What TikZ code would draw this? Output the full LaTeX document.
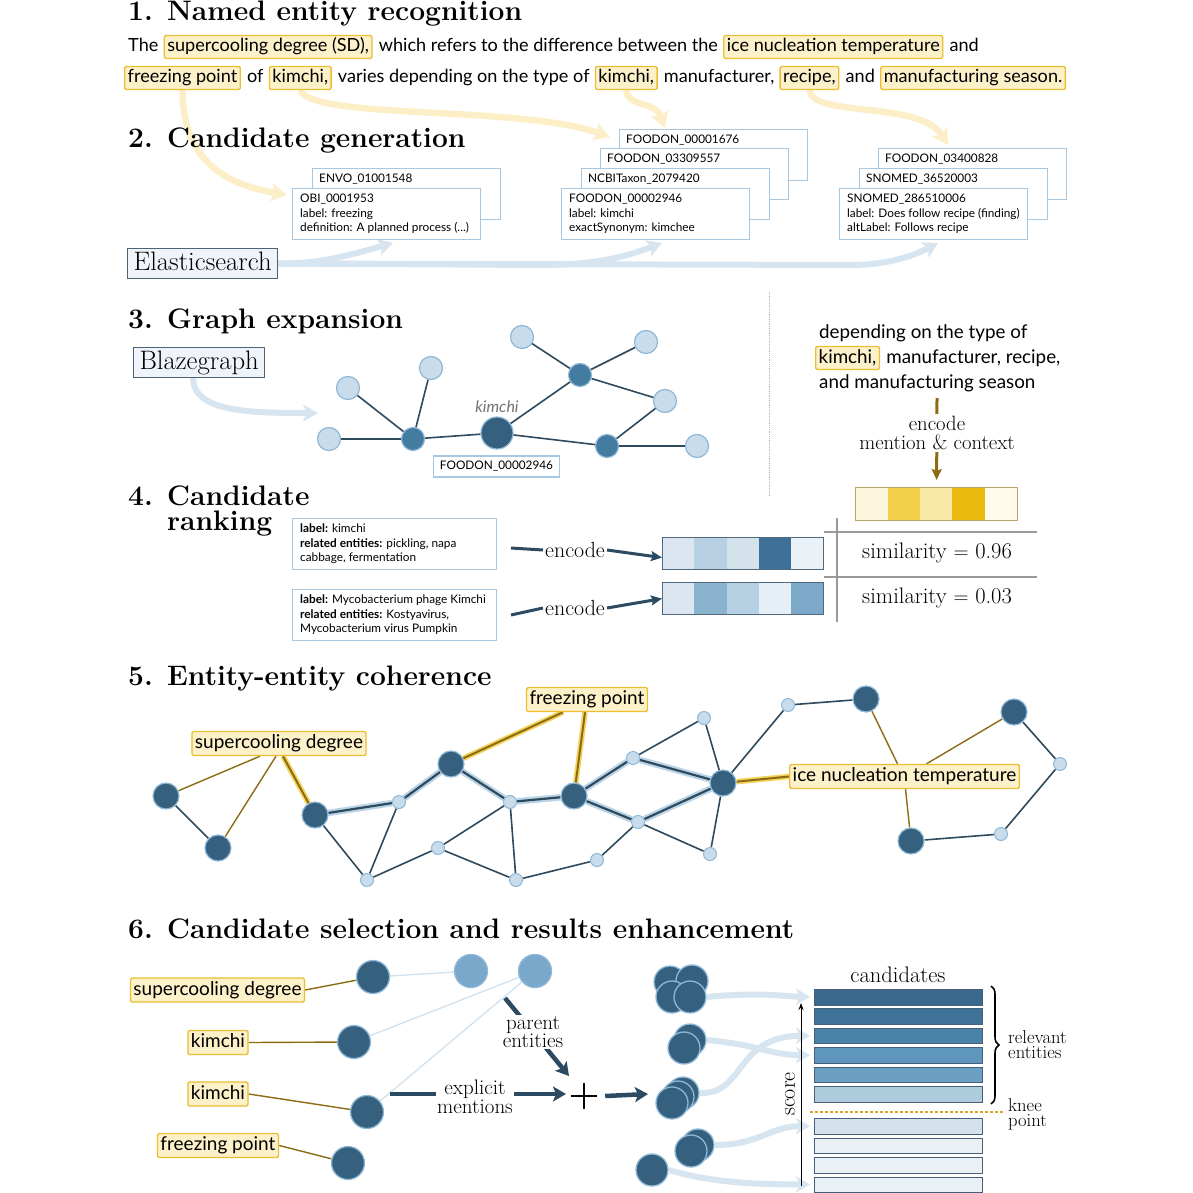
\documentclass[tikz,border=0pt]{standalone}
\usepackage{fontspec}
\newfontfamily\lato{Lato}
\usetikzlibrary{arrows.meta,decorations.pathreplacing,backgrounds,calc}
\definecolor{hlfill}{HTML}{FDF1C9}
\definecolor{hlgold}{HTML}{EBBE33}
\definecolor{paleyel}{HTML}{FCEFC8}
\definecolor{boxblue}{HTML}{A7C8E0}
\definecolor{esblue}{HTML}{D7E5F0}
\definecolor{esfill}{HTML}{EEF4F9}
\definecolor{esdraw}{HTML}{4D6475}
\definecolor{edgec}{HTML}{2F4A5D}
\definecolor{lnfill}{HTML}{C9DCEB}
\definecolor{lndraw}{HTML}{8FB7D6}
\definecolor{mnfill}{HTML}{447BA1}
\definecolor{dnfill}{HTML}{35617F}
\definecolor{goldline}{HTML}{8C6B12}
\definecolor{goldglow}{HTML}{F3D45E}
\definecolor{glowblue}{HTML}{B9D3E7}
\definecolor{arrdark}{HTML}{2C4B62}
\definecolor{vecyb}{HTML}{B9A66A}
\definecolor{vecbb}{HTML}{50697C}
\definecolor{psix}{HTML}{7AA8CB}
\definecolor{lline}{HTML}{D3E3EF}
\definecolor{bardraw}{HTML}{46607A}
\definecolor{tgray}{HTML}{9A9A9A}
\definecolor{kneec}{HTML}{D9A520}
\begin{document}
\begin{tikzpicture}[x=1pt,y=-1pt,
  sect/.style={anchor=base west, inner sep=0, font=\fontsize{28.2}{30}\selectfont\bfseries},
  txt/.style={anchor=base west, inner sep=0, font=\lato\fontsize{18.1}{21}\selectfont},
  rtxt/.style={anchor=base west, inner sep=0, font=\lato\fontsize{18.8}{21}\selectfont},
  hl/.style={anchor=base west, draw=hlgold, fill=hlfill, line width=1.4pt, rounded corners=1.5pt, inner xsep=3pt, inner ysep=3pt, text height=13.5pt, text depth=3.5pt, font=\lato\fontsize{18.1}{21}\selectfont},
  hlr/.style={hl, font=\lato\fontsize{18.8}{21}\selectfont},
  hlc/.style={hl, anchor=center, font=\lato\fontsize{19}{21}\selectfont, text height=14pt, text depth=4pt},
  cbox/.style={draw=boxblue, fill=white, line width=1.2pt, minimum width=188pt, minimum height=51pt, anchor=north west, inner sep=0},
  ctext/.style={anchor=north west, inner sep=0, align=left, font=\lato\fontsize{11.8}{14.5}\selectfont},
  kbox/.style={draw=boxblue, fill=white, line width=1.2pt, minimum width=204pt, minimum height=51pt, anchor=north west, inner sep=0},
  esarr/.style={draw=esblue, line width=6pt, -{Stealth[length=15pt,width=17pt,inset=4pt]}},
  yarr/.style={draw=paleyel, line width=6.5pt, -{Stealth[length=16pt,width=18pt,inset=4pt]}},
  tool/.style={draw=esdraw, fill=esfill, line width=1pt, inner xsep=6pt, inner ysep=3pt, text height=18.5pt, text depth=5.5pt, anchor=north west, font=\fontsize{26.7}{28}\selectfont},
  lnode/.style={circle, fill=lnfill, draw=lndraw, line width=1.2pt, minimum size=23pt, inner sep=0},
  mnode/.style={circle, fill=mnfill, draw=lndraw, line width=1.2pt, minimum size=23pt, inner sep=0},
  knode/.style={circle, fill=dnfill, draw=lndraw, line width=1.2pt, minimum size=32pt, inner sep=0},
  gedge/.style={draw=edgec, line width=1.6pt},
  dbig/.style={circle, fill=dnfill, draw=lndraw, line width=1.2pt, minimum size=26pt, inner sep=0},
  dsmall/.style={circle, fill=lnfill, draw=lndraw, line width=1pt, minimum size=13pt, inner sep=0},
  hedge/.style={draw=edgec, line width=2.2pt, preaction={draw=glowblue, line width=6.5pt}},
  goldedge/.style={draw=goldline, line width=1.4pt},
  hgold/.style={draw=goldline, line width=2pt, preaction={draw=goldglow, line width=5.5pt}},
  cell/.style={minimum width=32.4pt, minimum height=33pt, inner sep=0, anchor=north west},
  bcell/.style={minimum width=32.2pt, minimum height=32pt, inner sep=0, anchor=north west},
  serif/.style={font=\fontsize{22.5}{24}\selectfont, inner sep=1pt},
  smallserif/.style={font=\fontsize{21}{16}\selectfont, inner sep=1pt, align=center},
  tinyserif/.style={font=\fontsize{18.6}{15}\selectfont, inner sep=1pt, align=left, anchor=west},
  bigarr/.style={draw=arrdark, line width=4.5pt, -{Stealth[length=13pt,width=15pt,inset=3pt]}},
  encline/.style={draw=arrdark, line width=3pt},
  encarr/.style={draw=arrdark, line width=3pt, -{Stealth[length=11pt,width=10pt,inset=2pt]}},
  bar/.style={draw=bardraw, line width=0.9pt, minimum width=168pt, minimum height=15.5pt, anchor=north west, inner sep=0},
  dsix/.style={circle, fill=dnfill, draw=lndraw, line width=1.3pt, minimum size=33pt, inner sep=0},
  csix/.style={circle, fill=dnfill, draw=lndraw, line width=1.3pt, minimum size=32pt, inner sep=0},
  psixn/.style={circle, fill=psix, draw=lndraw, line width=1.3pt, minimum size=33pt, inner sep=0},
  clarr/.style={draw=esblue, line width=6pt, -{Stealth[length=14pt,width=16pt,inset=4pt]}}
]
\useasboundingbox (0,0) rectangle (1193,1193);
\begin{scope}[on background layer]
\fill[white] (0,0) rectangle (1193,1193);
\end{scope}

%% ---------------- Section 1
\node[sect] (t1) at (128,21) {\makebox[39pt][l]{1.}Named entity recognition};
\node[txt] (a1) at (128,52) {The};
\node[hl] (h1) at ([xshift=5pt]a1.base east) {supercooling degree (SD),};
\node[txt] (a2) at ([xshift=6pt]h1.base east) {which refers to the difference between the};
\node[hl] (h2) at ([xshift=5pt]a2.base east) {ice nucleation temperature};
\node[txt] (a3) at ([xshift=6pt]h2.base east) {and};
\node[hl] (h3) at (124,83) {freezing point};
\node[txt] (a4) at ([xshift=6pt]h3.base east) {of};
\node[hl] (h4) at ([xshift=5pt]a4.base east) {kimchi,};
\node[txt] (a5) at ([xshift=6pt]h4.base east) {varies depending on the type of};
\node[hl] (h5) at ([xshift=5pt]a5.base east) {kimchi,};
\node[txt] (a6) at ([xshift=6pt]h5.base east) {manufacturer,};
\node[hl] (h6) at ([xshift=5pt]a6.base east) {recipe,};
\node[txt] (a7) at ([xshift=6pt]h6.base east) {and};
\node[hl] (h7) at ([xshift=5pt]a7.base east) {manufacturing season.};

%% ---------------- Section 2
\node[sect] (t2) at (128,148) {\makebox[39pt][l]{2.}Candidate generation};
\node[cbox] (envo) at (312,168) {};
\node[ctext] (envot) at ([xshift=7pt,yshift=-6pt]envo.north west) {ENVO\_01001548};
\node[cbox] (obi) at (292,188) {};
\node[ctext] (obit) at ([xshift=8pt,yshift=-6pt]obi.north west) {OBI\_0001953\\label: freezing\\definition: A planned process (...)};

\node[cbox] (fa) at (619,129) {};
\node[ctext] (fat) at ([xshift=7pt,yshift=-6pt]fa.north west) {FOODON\_00001676};
\node[cbox] (fb) at (600,148) {};
\node[ctext] (fbt) at ([xshift=7pt,yshift=-6pt]fb.north west) {FOODON\_03309557};
\node[cbox] (nc) at (581,168) {};
\node[ctext] (nct) at ([xshift=7pt,yshift=-6pt]nc.north west) {NCBITaxon\_2079420};
\node[cbox] (fc) at (561,188) {};
\node[ctext] (fct) at ([xshift=8pt,yshift=-6pt]fc.north west) {FOODON\_00002946\\label: kimchi\\exactSynonym: kimchee};

\node[cbox] (fd) at (878,148) {};
\node[ctext] (fdt) at ([xshift=7pt,yshift=-6pt]fd.north west) {FOODON\_03400828};
\node[cbox] (sa) at (859,168) {};
\node[ctext] (sat) at ([xshift=7pt,yshift=-6pt]sa.north west) {SNOMED\_36520003};
\node[cbox] (sb) at (839,188) {};
\node[ctext] (sbt) at ([xshift=8pt,yshift=-6pt]sb.north west) {SNOMED\_286510006\\label: Does follow recipe (finding)\\altLabel: Follows recipe};

\node[tool] (es) at (127,248) {Elasticsearch};

\begin{scope}[on background layer]
\draw[yarr] (h3.south) .. controls (183,165) and (230,185) .. (287,195);
\draw[yarr] (h4.south) .. controls (312,120) and (520,105) .. (610,137);
\draw[yarr] (h5.south) .. controls (628,108) and (655,100) .. (665,128);
\draw[yarr] (h6.south) .. controls (812,118) and (920,100) .. (948,145);
\draw[esarr] (es.east) .. controls (320,264) and (350,255) .. (393,243);
\draw[esarr] (es.east) -- (540,265) .. controls (600,265) and (630,255) .. (662,243);
\draw[esarr] (es.east) -- (850,265) .. controls (890,265) and (915,255) .. (938,243);
\end{scope}

%% ---------------- Section 3
\node[sect] (t3) at (128,328) {\makebox[39pt][l]{3.}Graph expansion};
\node[tool] (bg) at (133,347) {Blazegraph};
\coordinate (bgend) at (318,413);
\begin{scope}[on background layer]
\draw[esarr] ([xshift=-6pt]bg.south) .. controls (193,412) and (250,413) .. (bgend);
\end{scope}

\node[lnode] (L1) at (348,388) {};
\node[lnode] (L2) at (431,368) {};
\node[lnode] (L3) at (329,439) {};
\node[mnode] (M1) at (413,439) {};
\node[knode] (K) at (497,433) {};
\node[lnode] (T1) at (522,337) {};
\node[lnode] (T2) at (646,342) {};
\node[mnode] (M2) at (580,375) {};
\node[lnode] (R1) at (665,401) {};
\node[mnode] (M3) at (607,446) {};
\node[lnode] (R2) at (697,446) {};
\draw[gedge] (L1) -- (M1); \draw[gedge] (L2) -- (M1); \draw[gedge] (L3) -- (M1);
\draw[gedge] (M1) -- (K); \draw[gedge] (K) -- (M2); \draw[gedge] (K) -- (M3);
\draw[gedge] (M2) -- (T1); \draw[gedge] (M2) -- (T2); \draw[gedge] (M2) -- (R1);
\draw[gedge] (R1) -- (M3); \draw[gedge] (M3) -- (R2);
\node[font=\lato\itshape\fontsize{16}{18}\selectfont, text=black!55, inner sep=0] (kl) at (497,407) {kimchi};
\node[draw=boxblue, line width=1.2pt, fill=white, font=\lato\fontsize{11.8}{13}\selectfont, minimum width=126pt, minimum height=21pt, inner sep=0] (kid) at (496.5,466.5) {FOODON\_00002946};

\draw[tgray!70, line width=0.8pt, densely dotted] (769,292) -- (769,497);
\node[rtxt] (r1) at (819,338) {depending on the type of};
\node[hlr] (rk) at (815,363) {kimchi,};
\node[rtxt] (r2) at ([xshift=6pt]rk.base east) {manufacturer, recipe,};
\node[rtxt] (r3) at (819,388) {and manufacturing season};

\node[cell, fill={rgb,255:red,254;green,246;blue,220}] (y1) at (855,487) {};
\node[cell, fill={rgb,255:red,245;green,208;blue,74}] (y2) at (887.4,487) {};
\node[cell, fill={rgb,255:red,250;green,232;blue,168}] (y3) at (919.8,487) {};
\node[cell, fill={rgb,255:red,232;green,185;blue,14}] (y4) at (952.2,487) {};
\node[cell, fill={rgb,255:red,255;green,250;blue,233}] (y5) at (984.6,487) {};
\node[draw=vecyb, line width=1.2pt, minimum width=162pt, minimum height=33pt, inner sep=0, anchor=north west] (yvec) at (855,487) {};
\coordinate (encS) at (937,398);
\draw[draw=goldline, line width=3pt, -{Stealth[length=11pt,width=10pt,inset=2pt]}, shorten >=7pt] (encS) -- (yvec.north);
\node[fill=white, font=\fontsize{20.7}{19}\selectfont, align=center, inner sep=2pt] (encm) at (937,433) {encode\\mention \& context};

%% ---------------- Section 4
\node[sect] (t4) at (128,505) {\makebox[39pt][l]{4.}Candidate};
\node[sect] (t4b) at (167,530) {ranking};
\node[kbox] (kb1) at (292,518) {};
\node[ctext, font=\lato\fontsize{11.8}{14.5}\selectfont] (kb1t) at ([xshift=8pt,yshift=-6pt]kb1.north west) {\textbf{label:} kimchi\\\textbf{related entities:} pickling, napa\\cabbage, fermentation};
\node[kbox] (kb2) at (292,589) {};
\node[ctext, font=\lato\fontsize{11.8}{14.5}\selectfont] (kb2t) at ([xshift=8pt,yshift=-6pt]kb2.north west) {\textbf{label:} Mycobacterium phage Kimchi\\\textbf{related entities:} Kostyavirus,\\Mycobacterium virus Pumpkin};

\node[bcell, fill={rgb,255:red,220;green,230;blue,240}] (u1) at (662,537) {};
\node[bcell, fill={rgb,255:red,183;green,208;blue,227}] (u2) at (694.2,537) {};
\node[bcell, fill={rgb,255:red,212;green,226;blue,236}] (u3) at (726.4,537) {};
\node[bcell, fill={rgb,255:red,63;green,112;blue,151}] (u4) at (758.6,537) {};
\node[bcell, fill={rgb,255:red,234;green,241;blue,247}] (u5) at (790.8,537) {};
\node[draw=vecbb, line width=1.2pt, minimum width=161pt, minimum height=32pt, inner sep=0, anchor=north west] (uvec) at (662,537) {};
\node[bcell, fill={rgb,255:red,220;green,230;blue,240}] (w1) at (662,582) {};
\node[bcell, fill={rgb,255:red,138;green,179;blue,208}] (w2) at (694.2,582) {};
\node[bcell, fill={rgb,255:red,182;green,209;blue,228}] (w3) at (726.4,582) {};
\node[bcell, fill={rgb,255:red,231;green,239;blue,246}] (w4) at (758.6,582) {};
\node[bcell, fill={rgb,255:red,124;green,169;blue,201}] (w5) at (790.8,582) {};
\node[draw=vecbb, line width=1.2pt, minimum width=161pt, minimum height=32pt, inner sep=0, anchor=north west] (wvec) at (662,582) {};

\node[font=\fontsize{21.9}{22}\selectfont, inner sep=2pt] (enc1) at (575,550) {encode};
\node[font=\fontsize{21.9}{22}\selectfont, inner sep=2pt] (enc2) at (575,608) {encode};
\coordinate (e1s) at (511,548);
\coordinate (e2s) at (511,615);
\draw[encline] (e1s) -- (enc1.west);
\draw[encline] (e2s) -- (enc2.west);
\draw[encarr] (enc1.east) -- ([yshift=-4pt]uvec.west);
\draw[encarr] (enc2.east) -- ([yshift=0pt]wvec.west);

\draw[tgray, line width=1.2pt] (837,518) -- (837,622);
\draw[tgray, line width=1.2pt] (824,532) -- (1037,532);
\draw[tgray, line width=1.2pt] (824,577) -- (1037,577);
\node[serif, anchor=base west] (sim1) at (861,558) {similarity $=$ 0.96};
\node[serif, anchor=base west] (sim2) at (861,603) {similarity $=$ 0.03};

%% ---------------- Section 5
\node[sect] (t5) at (128,685) {\makebox[39pt][l]{5.}Entity-entity coherence};
\node[dbig] (A) at (166,796) {};
\node[dbig] (B) at (218,848) {};
\node[dbig] (C) at (315,815) {};
\node[dbig] (D) at (451,764) {};
\node[dbig] (E) at (574,796) {};
\node[dbig] (F) at (723,783) {};
\node[dbig] (G) at (866,699) {};
\node[dbig] (H) at (1014,712) {};
\node[dbig] (I) at (911,841) {};
\node[dsmall] (na) at (399,802) {};
\node[dsmall] (nb) at (510,802) {};
\node[dsmall] (nc) at (438,848) {};
\node[dsmall] (nd) at (367,880) {};
\node[dsmall] (ne) at (516,880) {};
\node[dsmall] (nf) at (597,860) {};
\node[dsmall] (ng) at (633,758) {};
\node[dsmall] (nh) at (704,718) {};
\node[dsmall] (ni) at (638,822) {};
\node[dsmall] (nj) at (710,854) {};
\node[dsmall] (nk) at (788,705) {};
\node[dsmall] (nl) at (1060,764) {};
\node[dsmall] (nm) at (1001,834) {};
\node[hlc] (sd5) at (279,743.5) {supercooling degree};
\node[hlc] (fp5) at (587,699.5) {freezing point};
\node[hlc] (ice5) at (904.5,776.5) {ice nucleation temperature};
\begin{scope}[on background layer]
\draw[gedge] (A) -- (B);
\draw[gedge] (C) -- (nd); \draw[gedge] (nd) -- (na); \draw[gedge] (nd) -- (nc);
\draw[gedge] (nc) -- (nb); \draw[gedge] (nc) -- (ne); \draw[gedge] (nb) -- (ne);
\draw[gedge] (ne) -- (nf); \draw[gedge] (nf) -- (ni); \draw[gedge] (ng) -- (nh);
\draw[gedge] (nh) -- (F); \draw[gedge] (ni) -- (nj); \draw[gedge] (nj) -- (F);
\draw[gedge] (F) -- (nk); \draw[gedge] (nk) -- (G); \draw[gedge] (H) -- (nl);
\draw[gedge] (nl) -- (nm); \draw[gedge] (nm) -- (I);
\draw[hedge] (C) -- (na); \draw[hedge] (na) -- (D); \draw[hedge] (D) -- (nb);
\draw[hedge] (nb) -- (E); \draw[hedge] (E) -- (ng); \draw[hedge] (ng) -- (F);
\draw[hedge] (E) -- (ni); \draw[hedge] (ni) -- (F);
\draw[goldedge] ([xshift=-19pt]sd5.south) -- (A);
\draw[goldedge] ([xshift=-3pt]sd5.south) -- (B);
\draw[hgold] ([xshift=4pt]sd5.south) -- (C);
\draw[hgold] ([xshift=-24pt]fp5.south) -- (D);
\draw[hgold] ([xshift=-2pt]fp5.south) -- (E);
\draw[hgold] (ice5.west) -- (F);
\draw[goldedge] ([xshift=-7pt]ice5.north) -- (G);
\draw[goldedge] ([xshift=22pt]ice5.north) -- (H);
\draw[goldedge] ([xshift=1pt]ice5.south) -- (I);
\end{scope}

%% ---------------- Section 6
\node[sect] (t6) at (128,938) {\makebox[39pt][l]{6.}Candidate selection and results enhancement};
\node[hlc] (l1) at (217.5,990) {supercooling degree};
\node[hlc] (l2) at (218,1042.5) {kimchi};
\node[hlc] (l3) at (218,1094) {kimchi};
\node[hlc] (l4) at (218,1145.5) {freezing point};
\node[dsix] (N1) at (373,977) {};
\node[dsix] (N2) at (354,1042) {};
\node[dsix] (N3) at (367,1112) {};
\node[dsix] (N4) at (348,1163) {};
\node[psixn] (P1) at (471,971) {};
\node[psixn] (P2) at (535,971) {};
\begin{scope}[on background layer]
\draw[goldline, line width=1.4pt] (l1.east) -- (N1);
\draw[goldline, line width=1.4pt] (l2.east) -- (N2);
\draw[goldline, line width=1.4pt] (l3.east) -- (N3);
\draw[goldline, line width=1.4pt] (l4.east) -- (N4);
\draw[lline, line width=1.4pt] (N1) -- (P1);
\draw[lline, line width=1.4pt] (N2) -- (P2);
\draw[lline, line width=1.4pt] (N3) -- (P2);
\end{scope}
\coordinate (pS) at (505,998);
\coordinate (pE) at (569,1076);
\coordinate (xS) at (390,1094);
\coordinate (xE) at (566,1094);
\draw[bigarr] (pS) -- (pE);
\draw[bigarr] (xS) -- (xE);
\node[smallserif, fill=white, inner sep=1pt] (pt) at (533,1032) {parent\\entities};
\node[smallserif, fill=white, inner sep=1pt] (xt) at (475,1097) {explicit\\mentions};
\node[minimum size=26pt, inner sep=0, path picture={
  \draw[line width=1.8pt] (path picture bounding box.west) -- (path picture bounding box.east);
  \draw[line width=1.8pt] (path picture bounding box.north) -- (path picture bounding box.south);}] (plus) at (584,1096) {};
\coordinate (qE) at (648,1094);
\draw[bigarr] ([xshift=8pt]plus.east) -- (qE);

\node[csix] (c1a) at (670,982) {};
\node[csix] (c1b) at (692,981) {};
\node[csix] (c1c) at (672,997) {};
\node[csix] (c1d) at (690,997) {};
\node[csix] (c2a) at (690,1040) {};
\node[csix] (c2b) at (684,1048) {};
\node[csix] (c3a) at (683,1093) {};
\node[csix] (c3b) at (678,1097) {};
\node[csix] (c3c) at (672,1103) {};
\node[csix] (c4a) at (698,1145) {};
\node[csix] (c4b) at (691,1151) {};
\node[csix] (s1) at (652,1170) {};

\node[bar, fill={rgb,255:red,58;green,105;blue,141}] (b1) at (814,989) {};
\node[bar, fill={rgb,255:red,63;green,115;blue,153}] (b2) at (814,1008) {};
\node[bar, fill={rgb,255:red,72;green,130;blue,169}] (b3) at (814,1027.5) {};
\node[bar, fill={rgb,255:red,94;green,150;blue,189}] (b4) at (814,1047) {};
\node[bar, fill={rgb,255:red,107;green,160;blue,196}] (b5) at (814,1066.5) {};
\node[bar, fill={rgb,255:red,175;green,203;blue,222}] (b6) at (814,1086) {};
\node[bar, fill={rgb,255:red,211;green,226;blue,237}] (b7) at (814,1118) {};
\node[bar, fill={rgb,255:red,233;green,241;blue,247}] (b8) at (814,1137.5) {};
\node[bar, fill={rgb,255:red,233;green,241;blue,247}] (b9) at (814,1157) {};
\node[bar, fill={rgb,255:red,233;green,241;blue,247}] (b10) at (814,1176.5) {};

\draw[clarr, shorten >=4pt] (c1d.east) .. controls (760,992) and (780,996) .. (b1.west);
\draw[clarr, shorten >=4pt] (c2a.east) .. controls (760,1045) and (770,1055) .. (b4.west);
\draw[clarr, shorten >=4pt] (c3a.east) .. controls (745,1095) and (735,1036) .. (b3.west);
\draw[clarr, shorten >=4pt] (c4a.east) .. controls (760,1145) and (770,1126) .. (b7.west);
\draw[clarr, shorten >=4pt] (s1.east) .. controls (720,1185) and (770,1184) .. (b10.west);

\node[serif, anchor=base] (cand) at (898,982) {candidates};
\coordinate (sc0) at (801,1186);
\coordinate (sc1) at (801,1003);
\draw[line width=1pt, -{Stealth[length=7pt,width=5pt]}] (sc0) -- (sc1);
\node[font=\fontsize{22}{22}\selectfont, rotate=90, inner sep=0] (sco) at (790,1094) {score};
\coordinate (br0) at (991,986);
\coordinate (br1) at (991,1104);
\draw[decorate, decoration={brace, amplitude=8pt}, line width=1.6pt] (br0) -- (br1);
\node[tinyserif] (rel) at (1007,1045) {relevant\\entities};
\coordinate (kn0) at (810,1112);
\coordinate (kn1) at (1005,1112);
\draw[kneec, line width=1.3pt, dash pattern=on 3pt off 2pt] (kn0) -- (kn1);
\node[tinyserif] (knee) at (1007,1114) {knee\\point};
\end{tikzpicture}
\end{document}
